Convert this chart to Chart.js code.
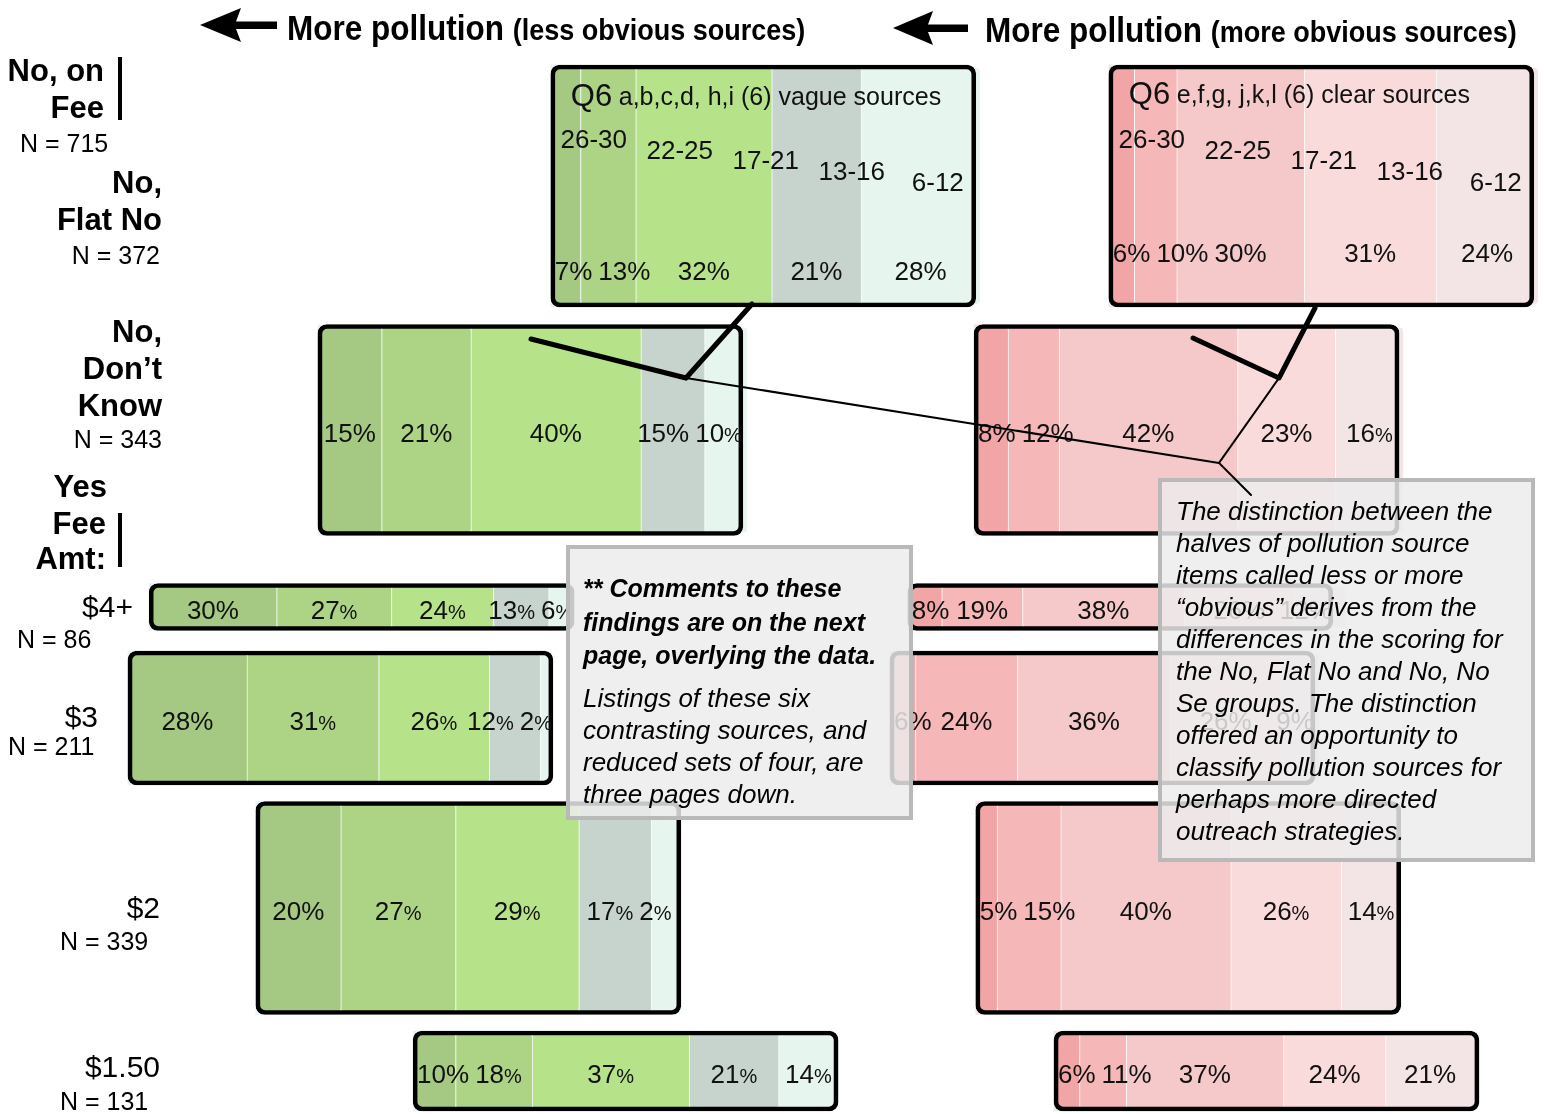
<!DOCTYPE html>
<html>
<head>
<meta charset="utf-8">
<script src="https://cdn.jsdelivr.net/npm/chart.js@4.4.1/dist/chart.umd.min.js"></script>
<style>
  body { margin: 0; background: #fff; font-family: "Liberation Sans", Arial, sans-serif; color: #000; }
  #wrap { position: relative; width: 1544px; height: 1114px; overflow: hidden; }
  #chart { position: absolute; left: 0; top: 0; }
  .t { position: absolute; white-space: nowrap; line-height: 1; }
  .b { font-weight: bold; font-size: 31px; }
  .n { font-size: 25px; }
  .d { font-size: 30px; }
  .vbar { position: absolute; width: 4px; background: #000; }
  .hdr { position: absolute; white-space: nowrap; font-weight: bold; font-size: 35px; line-height: 35px;
         transform: scaleX(0.9); transform-origin: left center; }
  .hdr span { font-size: 30px; }
  .note { position: absolute; box-sizing: border-box; border: 4px solid #b9b9b9;
          background: rgba(236,236,236,0.84); }
  .note div { position: absolute; white-space: nowrap; font-style: italic; }
  svg { position: absolute; left: 0; top: 0; }
</style>
</head>
<body>
<div id="wrap">
  <canvas id="chart" width="1544" height="1114"></canvas>

  <!-- encabezados -->
  <div class="hdr" style="left:287px;top:10px">More pollution <span>(less obvious sources)</span></div>
  <div class="hdr" style="left:985px;top:12px">More pollution <span>(more obvious sources)</span></div>

  <!-- etiquetas de grupos -->
  <div class="t b" style="right:1440px;top:55px">No, on</div>
  <div class="t b" style="right:1440px;top:92px">Fee</div>
  <div class="vbar" style="left:118px;top:57px;height:63px"></div>
  <div class="t n" style="left:20px;top:131px">N = 715</div>
  <div class="t b" style="right:1382px;top:167px">No,</div>
  <div class="t b" style="right:1382px;top:204px">Flat No</div>
  <div class="t n" style="right:1384px;top:243px">N = 372</div>
  <div class="t b" style="right:1382px;top:316px">No,</div>
  <div class="t b" style="right:1382px;top:353px">Don’t</div>
  <div class="t b" style="right:1382px;top:390px">Know</div>
  <div class="t n" style="right:1382px;top:427px">N = 343</div>
  <div class="t b" style="right:1437px;top:471px">Yes</div>
  <div class="t b" style="right:1438px;top:508px">Fee</div>
  <div class="t b" style="right:1438px;top:543px">Amt:</div>
  <div class="vbar" style="left:118px;top:513px;height:54px"></div>
  <div class="t d" style="right:1411px;top:592px">$4+</div>
  <div class="t n" style="left:17px;top:627px">N = 86</div>
  <div class="t d" style="right:1446px;top:702px">$3</div>
  <div class="t n" style="left:8px;top:734px">N = 211</div>
  <div class="t d" style="right:1384px;top:893px">$2</div>
  <div class="t n" style="left:60px;top:929px">N = 339</div>
  <div class="t d" style="right:1384px;top:1052px">$1.50</div>
  <div class="t n" style="left:60px;top:1089px">N = 131</div>

  <!-- notas -->
  <div class="note" style="left:566px;top:545px;width:347px;height:275px">
    <div style="left:13px;top:23px;font-weight:bold;font-size:25px;line-height:33.5px">** Comments to these<br>findings are on the next<br>page, overlying the data.</div>
    <div style="left:13px;top:133px;font-size:26px;line-height:32px">Listings of these six<br>contrasting sources, and<br>reduced sets of four, are<br>three pages down.</div>
  </div>
  <div class="note" style="left:1158px;top:478px;width:377px;height:384px">
    <div style="left:14px;top:13px;font-size:26px;line-height:32px">The distinction between the<br>halves of pollution source<br>items called less or more<br>“obvious” derives from the<br>differences in the scoring for<br>the No, Flat No and No, No<br>Se groups. The distinction<br>offered an opportunity to<br>classify pollution sources for<br>perhaps more directed<br>outreach strategies.</div>
  </div>

  <svg width="1544" height="1114">
    <path d="M200,25 L241,8 L236,21.5 L277,21.5 L277,29 L236,29 L241,42 Z" fill="#000"/>
    <path d="M893,28 L933,11 L928,24.5 L968,24.5 L968,32 L928,32 L933,45 Z" fill="#000"/>
    <g stroke="#000" fill="none" stroke-linecap="round">
      <path d="M752,304 L686,378 M531,339 L686,378" stroke-width="5"/>
      <path d="M686,378 L1219,463" stroke-width="2"/>
      <path d="M1315,308 L1279,378 M1193,338 L1279,378" stroke-width="5"/>
      <path d="M1279,378 L1219,463 L1251,495" stroke-width="2"/>
    </g>
  </svg>
</div>

<script>
/* =======================================================
     DATOS
======================================================= */
const bandLabels = ['26-30', '22-25', '17-21', '13-16', '6-12'];
const panelTitles = ['a,b,c,d, h,i (6) vague sources', 'e,f,g, j,k,l (6) clear sources'];
const groups = ['No, on Fee / No, Flat No', 'No, Don’t Know', '$4+', '$3', '$2', '$1.50'];

// % de cada grupo por banda de puntaje (26-30 ... 6-12)
const vagueShares = [
  [7, 13, 32, 21, 28],
  [15, 21, 40, 15, 10],
  [30, 27, 24, 13, 6],
  [28, 31, 26, 12, 2],
  [20, 27, 29, 17, 2],
  [10, 18, 37, 21, 14]
];
const clearShares = [
  [6, 10, 30, 31, 24],
  [8, 12, 42, 23, 16],
  [8, 19, 38, 26, 12],
  [6, 24, 36, 26, 9],
  [5, 15, 40, 26, 14],
  [6, 11, 37, 24, 21]
];

// desplazamiento de cada barra (puntos %) sobre el eje
const vagueShift = [129.6, 74.8, 35.1, 30.1, 60.2, 97.2];
const clearShift = [260.9, 229.2, 213.6, 209.4, 229.6, 248.0];

/* =======================================================
     DISEÑO
======================================================= */
const AXIS_MAX = 363.3;                 // ancho del lienzo en puntos %
const rowY = [186, 430, 607, 718, 908, 1071];
const rowH = [242, 211, 47, 134, 213, 80];
const topLabelY = [271, 253];

// signo % pequeño en algunas etiquetas (solo estilo)
const vagueSmallPct = [[0,0,0,0,0],[0,0,0,0,1],[0,1,1,1,1],[0,1,1,1,1],[0,1,1,1,1],[0,1,1,1,1]];
const clearSmallPct = [[0,0,0,0,0],[0,0,0,0,1],[0,0,0,0,0],[0,0,0,0,0],[0,0,0,1,1],[0,0,0,0,0]];

const greenColors = ['#a5c982', '#add385', '#b6e389', '#c6d4cd', '#e6f5ed'];
const redColors   = ['#f2a5a6', '#f6b7b8', '#f5c8c9', '#fadbdb', '#f3e5e5'];
const FONT = '"Liberation Sans", Arial, sans-serif';

/* =======================================================
     DATASETS
======================================================= */
function tramos(shares, shift, y) {
  let acc = shift;
  return shares.map(v => {
    const d = { x: [acc, acc + v], y };
    acc += v;
    return d;
  });
}

const datasets = [];
groups.forEach((g, r) => {
  const y = rowY[r];
  const cajas = [
    { x: [vagueShift[r], vagueShift[r] + 100], y },
    { x: [clearShift[r], clearShift[r] + 100], y }
  ];
  datasets.push({
    label: g + ' fondo', data: cajas, order: 3, grouped: false,
    barThickness: rowH[r], backgroundColor: [greenColors[4], redColors[4]],
    borderWidth: 0, borderRadius: 8
  });
  datasets.push({
    label: g, role: 'seg', row: r, order: 2, grouped: false,
    data: [...tramos(vagueShares[r], vagueShift[r], y), ...tramos(clearShares[r], clearShift[r], y)],
    barThickness: rowH[r] - 6,
    backgroundColor: [...greenColors, ...redColors],
    borderColor: 'rgba(255,255,255,0.8)',
    borderWidth: { left: 1, right: 0, top: 0, bottom: 0 },
    borderSkipped: false, borderRadius: 4
  });
  datasets.push({
    label: g + ' marco', role: 'box', data: cajas, order: 1, grouped: false,
    barThickness: rowH[r], backgroundColor: 'rgba(0,0,0,0)',
    borderColor: '#000', borderWidth: 4, borderSkipped: false, borderRadius: 9
  });
});

/* =======================================================
     ETIQUETAS
======================================================= */
function anchoEtiqueta(ctx, v, small) {
  ctx.font = '26px ' + FONT;
  const wn = ctx.measureText(String(v)).width;
  ctx.font = (small ? '20px ' : '26px ') + FONT;
  return [wn, ctx.measureText('%').width];
}

function colocar(els, widths, left, right) {
  const gap = 6;
  const pos = els.map((el, i) => {
    const a = Math.min(el.base, el.x), b = Math.max(el.base, el.x);
    return (a + b) / 2 - widths[i] / 2;
  });
  let limit = right - 1;
  for (let i = pos.length - 1; i >= 0; i--) {
    if (pos[i] + widths[i] > limit) pos[i] = limit - widths[i];
    limit = pos[i] - gap;
  }
  let floor = left + 4;
  for (let i = 0; i < pos.length; i++) {
    if (pos[i] < floor) pos[i] = floor;
    floor = pos[i] + widths[i] + gap;
  }
  return pos;
}

const etiquetas = {
  id: 'etiquetas',
  afterDatasetsDraw(chart) {
    const { ctx } = chart;
    ctx.save();
    ctx.fillStyle = '#111';
    chart.data.datasets.forEach((ds, di) => {
      if (ds.role !== 'seg') return;
      const els = chart.getDatasetMeta(di).data;
      const boxes = chart.getDatasetMeta(di + 1).data;
      [0, 1].forEach(p => {
        const box = boxes[p];
        const left = Math.min(box.base, box.x), right = Math.max(box.base, box.x);
        const top = box.y - box.height / 2;
        const shares = (p ? clearShares : vagueShares)[ds.row];
        const small = (p ? clearSmallPct : vagueSmallPct)[ds.row];
        const parts = shares.map((v, i) => anchoEtiqueta(ctx, v, small[i]));
        const xs = colocar(els.slice(p * 5, p * 5 + 5), parts.map(w => w[0] + w[1]), left, right);
        const base = (ds.row === 0 ? topLabelY[p] : box.y + 3) + 9;
        ctx.textAlign = 'left';
        ctx.textBaseline = 'alphabetic';
        shares.forEach((v, i) => {
          ctx.font = '26px ' + FONT;
          ctx.fillText(String(v), xs[i], base);
          ctx.font = (small[i] ? '20px ' : '26px ') + FONT;
          ctx.fillText('%', xs[i] + parts[i][0], base);
        });

        if (ds.row === 0) {
          ctx.textBaseline = 'middle';
          ctx.font = '31px ' + FONT;
          const tx = left + 20, ty = top + 32 - p * 2;
          ctx.fillText('Q6', tx, ty);
          const wq = ctx.measureText('Q6 ').width;
          ctx.font = '25px ' + FONT;
          ctx.fillText(panelTitles[p], tx + wq - 2, ty + 1);
          ctx.textAlign = 'center';
          ctx.font = '26px ' + FONT;
          bandLabels.forEach((b, i) => ctx.fillText(b, left + 43 + i * 86, top + 76 + i * 10.6));
        }
      });
    });
    ctx.restore();
  }
};

/* =======================================================
     GRÁFICA
======================================================= */
new Chart(document.getElementById('chart'), {
  type: 'bar',
  data: { datasets },
  options: {
    indexAxis: 'y',
    responsive: false,
    animation: false,
    events: [],
    layout: { padding: 0 },
    plugins: { legend: { display: false }, tooltip: { enabled: false } },
    scales: {
      x: { type: 'linear', min: 0, max: AXIS_MAX, display: false, offset: false },
      y: { type: 'linear', min: 0, max: 1114, reverse: true, display: false, offset: false }
    }
  },
  plugins: [etiquetas]
});
</script>
</body>
</html>
